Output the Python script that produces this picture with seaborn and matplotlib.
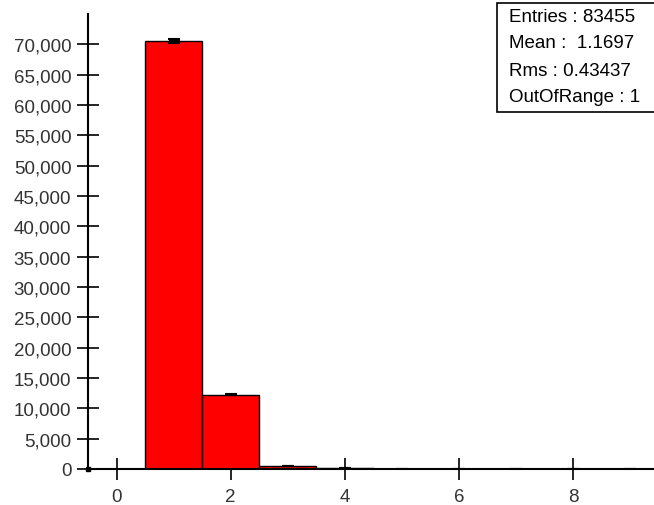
import seaborn as sns
import matplotlib.pyplot as plt
import matplotlib.ticker as mticker
import numpy as np
import pandas as pd

# bin centres and counts
bin_centres = [1, 2, 3, 4, 5, 6, 7, 8, 9]
counts = [70550, 12230, 470, 140, 40, 14, 6, 3, 1]

stats_lines = ["Entries : 83455", "Mean :  1.1697", "Rms : 0.43437", "OutOfRange : 1"]

sns.set_style("white")
plt.rcParams['font.family'] = ['Liberation Sans', 'DejaVu Sans']

df = pd.DataFrame({"x": bin_centres, "n": counts})

fig = plt.figure(figsize=(6.54, 5.06), dpi=100)
ax = fig.add_axes([88 / 654, 36 / 506, 571 / 654, 455 / 506])

sns.histplot(df, x="x", weights="n", discrete=True, color="#ff0000", alpha=1,
             edgecolor="black", linewidth=1, ax=ax)
# statistical errors drawn as short wide black bars
ax.errorbar(df["x"], df["n"], yerr=np.sqrt(df["n"]), fmt="none", ecolor="black",
            elinewidth=8, capsize=4, capthick=1.5)

ax.set_xlim(-0.5, 9.5)
ax.set_ylim(0, 75000)
ax.set_xticks([0, 2, 4, 6, 8])
ax.set_yticks(range(0, 70001, 5000))
ax.yaxis.set_major_formatter(mticker.FuncFormatter(lambda v, p: f"{int(v):,}"))
ax.set_xlabel("")
ax.set_ylabel("")

for s in ["top", "right"]:
    ax.spines[s].set_visible(False)
for s in ["left", "bottom"]:
    ax.spines[s].set_color("black")
    ax.spines[s].set_linewidth(1.5)
ax.tick_params(axis="both", direction="inout", length=16, width=1.2, color="black",
               labelsize=13.5, labelcolor="#333333", left=True, bottom=True)
ax.tick_params(axis="y", pad=4)
ax.tick_params(axis="x", pad=6)
ax.plot([-0.5], [0], marker="s", markersize=3, color="black", clip_on=False)

# stats box in the upper right corner
box = plt.Rectangle((497 / 654, 1 - 113 / 506), 0.3, 109 / 506, transform=fig.transFigure,
                    facecolor="white", edgecolor="black", linewidth=1.2)
fig.patches.append(box)
for i, line in enumerate(stats_lines):
    fig.text(509 / 654, 1 - (17 + 27 * i) / 506, line, fontsize=13.5, color="black",
             va="center", ha="left")

fig.savefig("out.png", dpi=100)
